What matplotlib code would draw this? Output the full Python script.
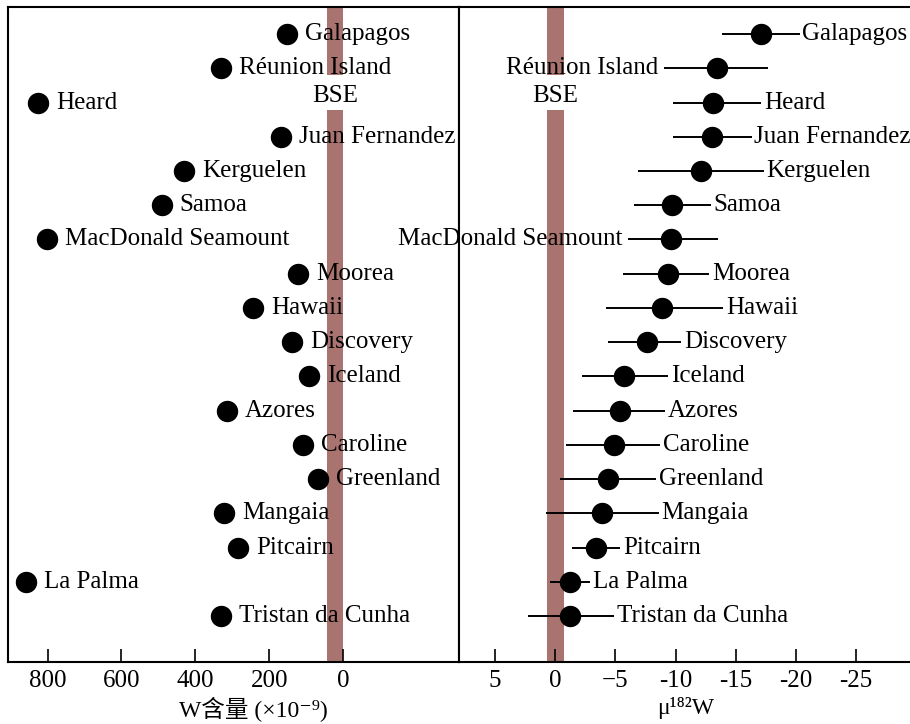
import matplotlib
matplotlib.use("Agg")
import matplotlib.pyplot as plt
import numpy as np

plt.rcParams['font.family'] = ['Liberation Serif', 'Noto Sans CJK SC', 'DejaVu Sans']

names = ['Galapagos', 'Réunion Island', 'Heard', 'Juan Fernandez', 'Kerguelen',
         'Samoa', 'MacDonald Seamount', 'Moorea', 'Hawaii', 'Discovery', 'Iceland',
         'Azores', 'Caroline', 'Greenland', 'Mangaia', 'Pitcairn', 'La Palma',
         'Tristan da Cunha']
w_content = [152, 331, 826, 169, 431, 491, 802, 122, 244, 139, 93, 315, 109, 68,
             323, 285, 859, 331]
mu182 = [-17.1, -13.4, -13.1, -13.0, -12.1, -9.7, -9.6, -9.35, -8.85, -7.6, -5.7,
         -5.35, -4.85, -4.35, -3.9, -3.35, -1.2, -1.2]
mu182_low = [-13.85, -9.0, -9.75, -9.8, -6.9, -6.5, -6.0, -5.6, -4.2, -4.4, -2.25,
             -1.5, -0.85, -0.4, 0.8, -1.4, 0.4, 2.25]
mu182_high = [-20.3, -17.7, -17.1, -16.3, -17.3, -12.9, -13.5, -12.8, -13.95, -10.45,
              -9.35, -9.1, -8.7, -8.35, -8.6, -5.4, -2.9, -4.9]
bse_w = (0, 44)
bse_mu = (0.7, -0.7)
w_ticks = [800, 600, 400, 200, 0]
mu_ticks = [5, 0, -5, -10, -15, -20, -25]
mu_ticklabels = ['5', '0', '\u22125', '-10', '-15', '-20', '-25']
left_side_labels = ['Réunion Island', 'MacDonald Seamount']

W, H = 910, 724
fig = plt.figure(figsize=(W / 100, H / 100), dpi=100)
top, bot = 7, 662
axL = fig.add_axes([8 / W, (H - bot) / H, (459 - 8) / W, (bot - top) / H])
axR = fig.add_axes([459 / W, (H - bot) / H, (914 - 459) / W, (bot - top) / H])

y = np.arange(len(names))
ylim = (18.34, -0.79)
band_color = '#a9746f'
lab_fs = 18

for ax in (axL, axR):
    ax.set_ylim(*ylim)
    ax.set_yticks([])
    for s in ax.spines.values():
        s.set_linewidth(1.5)
    ax.tick_params(axis='x', direction='in', length=9.5, width=1.2,
                   labelsize=18, pad=6, top=False)

def draw_band(ax, x0, x1):
    ax.fill_betweenx([ylim[1], 1.2], x0, x1, color=band_color, lw=0, zorder=0)
    ax.fill_betweenx([2.22, ylim[0]], x0, x1, color=band_color, lw=0, zorder=0)
    ax.text((x0 + x1) / 2, 1.82, 'BSE', ha='center', va='center', fontsize=lab_fs)

# Left panel
axL.set_xlim(907, -313)
draw_band(axL, *bse_w)
axL.plot(w_content, y, 'o', color='black', markersize=14.4, zorder=3)
for xi, yi, n in zip(w_content, y, names):
    axL.annotate(n, (xi, yi), xytext=(13, 0), textcoords='offset points',
                 ha='left', va='center', fontsize=lab_fs, zorder=2)
axL.set_xticks(w_ticks)
axL.set_xticklabels([str(t) for t in w_ticks])
axL.set_xlabel('W含量 (×10⁻⁹)', fontsize=17)
axL.xaxis.label.set_va('top')
axL.xaxis.set_label_coords(0.545, -0.054)

# Right panel
axR.set_xlim(8.0, -29.8)
draw_band(axR, *bse_mu)
mu = np.array(mu182)
lo = np.array(mu182_low)
hi = np.array(mu182_high)
axR.errorbar(mu, y, xerr=[mu - hi, lo - mu], fmt='o', color='black',
             markersize=14.4, elinewidth=1.4, capsize=0, zorder=3)
for i, n in enumerate(names):
    if n in left_side_labels:
        axR.annotate(n, (lo[i], y[i]), xytext=(-4, 0), textcoords='offset points',
                     ha='right', va='center', fontsize=lab_fs, zorder=2)
    else:
        axR.annotate(n, (hi[i], y[i]), xytext=(2, 0), textcoords='offset points',
                     ha='left', va='center', fontsize=lab_fs, zorder=2)
axR.set_xticks(mu_ticks)
axR.set_xticklabels(mu_ticklabels)
axR.set_xlabel('μ¹⁸²W', fontsize=17)
axR.xaxis.label.set_va('top')
axR.xaxis.set_label_coords(0.497, -0.054)

fig.savefig('out.png', dpi=100)
